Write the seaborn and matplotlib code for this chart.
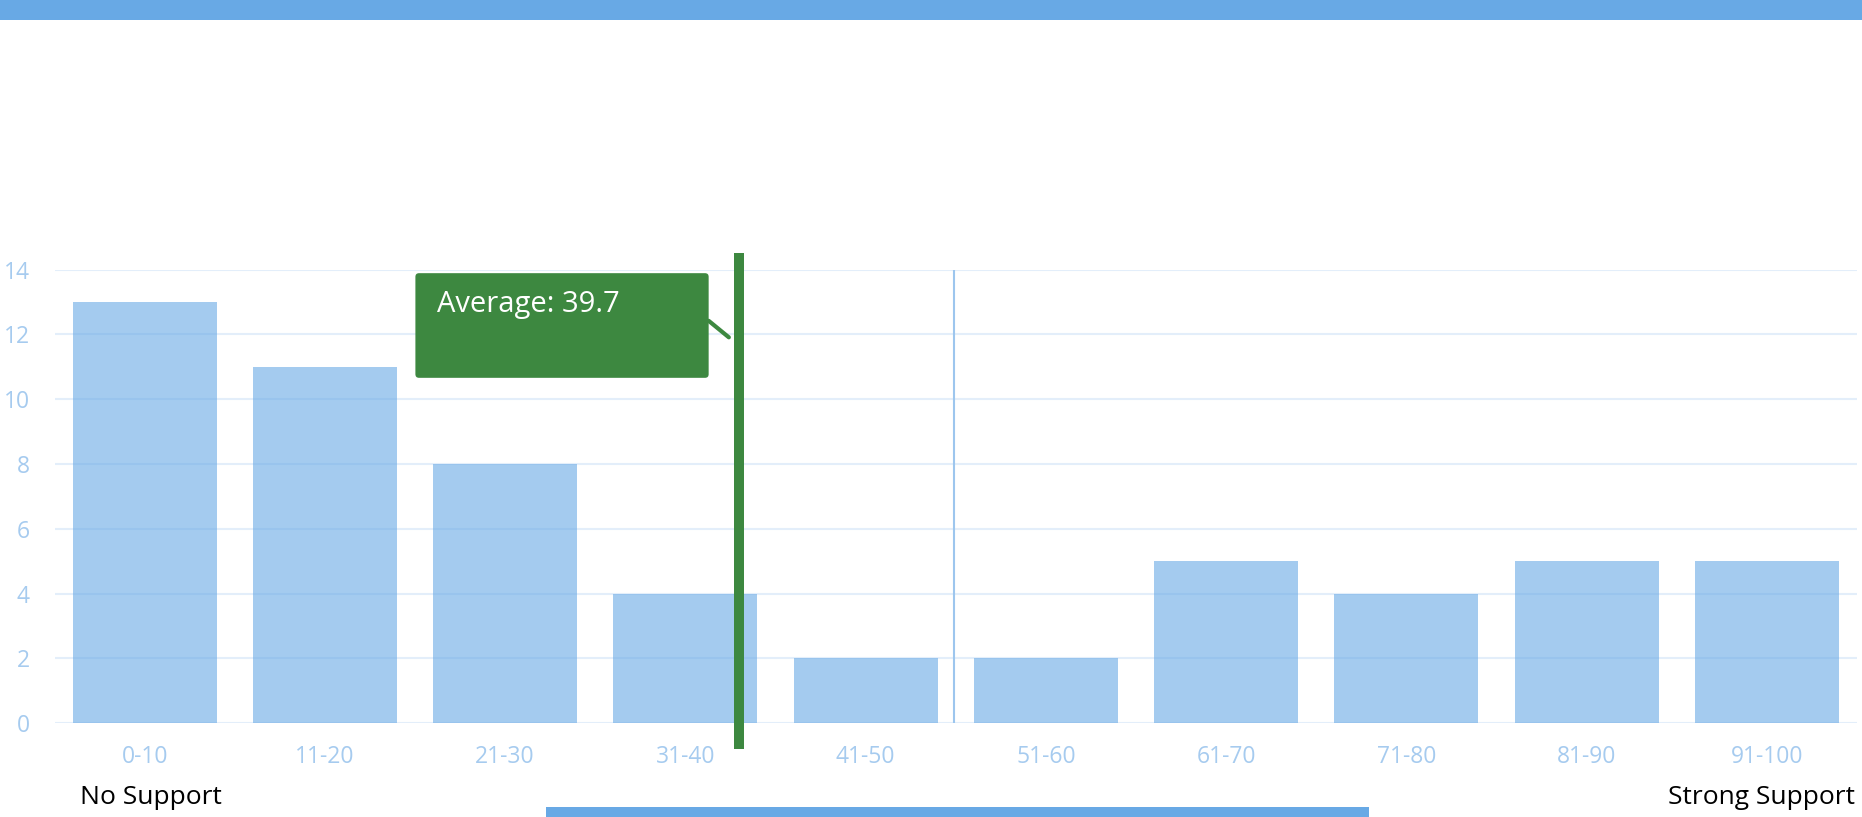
import numpy as np
import pandas as pd
import matplotlib.pyplot as plt
import seaborn as sns
from matplotlib.patches import Rectangle, FancyBboxPatch

# data
bins = ["0-10", "11-20", "21-30", "31-40", "41-50", "51-60", "61-70", "71-80", "81-90", "91-100"]
counts = [13, 11, 8, 4, 2, 2, 5, 4, 5, 5]
average = 39.7
y_ticks = [0, 2, 4, 6, 8, 10, 12, 14]

blue = "#68A9E5"
green = "#3D8840"
label_blue = "#A6CBEF"
grid_blue = "#E3EEFA"

sns.set_theme(style="white")
plt.rcParams['font.family'] = ['Open Sans', 'DejaVu Sans']

df = pd.DataFrame({"bin": bins, "count": counts})

fig = plt.figure(figsize=(18.62, 8.17), dpi=100)
ax = fig.add_axes([0.0293, 0.1148, 0.968, 0.5552])

sns.barplot(data=df, x="bin", y="count", color=blue, alpha=0.6, width=0.8,
            saturation=1, edgecolor="none", ax=ax, zorder=2)

ax.set_xlim(-0.5, len(bins) - 0.5)
ax.set_ylim(0, 14)
ax.set_yticks(y_ticks)
ax.yaxis.grid(True, color=grid_blue, linewidth=1.5, zorder=0)
ax.set_axisbelow(True)
for s in ax.spines.values():
    s.set_visible(False)
ax.set_xlabel("")
ax.set_ylabel("")
ax.tick_params(axis="y", length=0, pad=18, labelsize=16.5, labelcolor=label_blue)
ax.tick_params(axis="x", length=0, pad=16, labelsize=16.5, labelcolor=label_blue)

# hover cursor line between 41-50 and 51-60
ax.axvline(4.49, ymin=0, ymax=1, color="#9DC6EE", linewidth=1.5, zorder=3)

# average line (offset matches the original placement on the category axis)
avg_pos = average / 10 - 0.674
ax.plot([avg_pos, avg_pos], [-0.8, 14.51], color=green, linewidth=7.2,
        solid_capstyle="butt", clip_on=False, zorder=5)

# callout box
box = FancyBboxPatch((1.502, 10.66), 1.627, 3.23,
                     boxstyle="round,pad=0,rounding_size=0.02",
                     mutation_aspect=5.56, facecolor=green, edgecolor="none",
                     clip_on=False, zorder=6)
ax.add_patch(box)
ax.plot([3.129, 3.241], [12.42, 11.91], color=green, linewidth=3,
        clip_on=False, zorder=6)
ax.text(1.621, 12.93, f"Average: {average}", color="white", fontsize=21,
        va="center", ha="left", zorder=7)

# end labels
fig.text(0.0427, 0.0233, "No Support", fontsize=19, color="black", va="center", ha="left")
fig.text(0.996, 0.0233, "Strong Support", fontsize=19, color="black", va="center", ha="right")

# top bar and bottom scroll bar
fig.patches.append(Rectangle((0, 0.9755), 1, 0.0245, transform=fig.transFigure,
                             facecolor=blue, edgecolor="none"))
fig.patches.append(Rectangle((0.2932, 0), 0.442, 0.0122, transform=fig.transFigure,
                             facecolor=blue, edgecolor="none"))

fig.savefig("out.png", dpi=100)
